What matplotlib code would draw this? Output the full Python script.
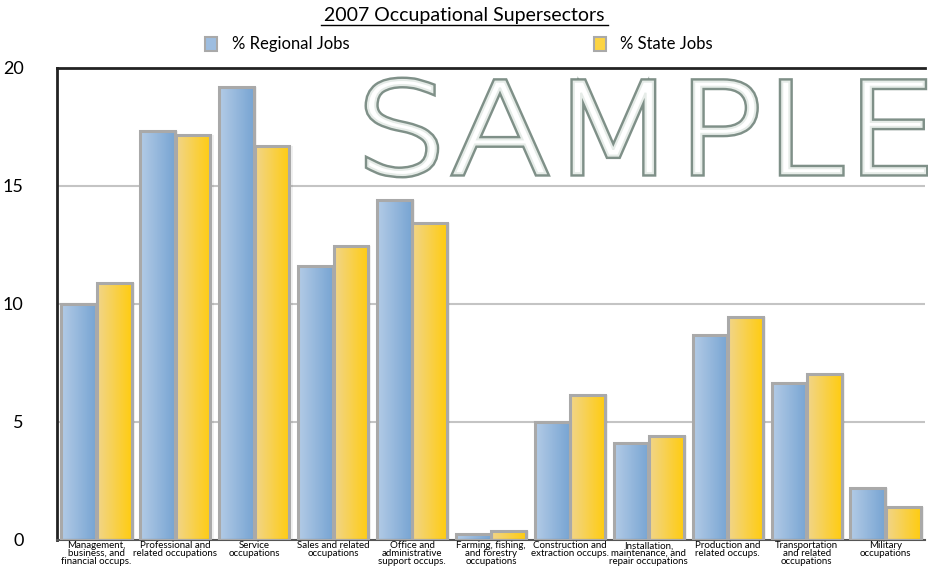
import numpy as np
import matplotlib.pyplot as plt
import matplotlib.patheffects as pe
from matplotlib.colors import LinearSegmentedColormap
from matplotlib.textpath import TextPath
from matplotlib.patches import PathPatch
from matplotlib.font_manager import FontProperties
from matplotlib.path import Path

categories = ['Management,\nbusiness, and\nfinancial occups.',
              'Professional and\nrelated occupations',
              'Service\noccupations',
              'Sales and related\noccupations',
              'Office and\nadministrative\nsupport occups.',
              'Farming, fishing,\nand forestry\noccupations',
              'Construction and\nextraction occups.',
              'Installation,\nmaintenance, and\nrepair occupations',
              'Production and\nrelated occups.',
              'Transportation\nand related\noccupations',
              'Military\noccupations']
regional = [10.0, 17.35, 19.2, 11.6, 14.4, 0.25, 5.0, 4.1, 8.7, 6.65, 2.2]
state = [10.9, 17.15, 16.7, 12.45, 13.45, 0.4, 6.15, 4.4, 9.45, 7.05, 1.4]
yticks = [0, 5, 10, 15, 20]

blue_cm = LinearSegmentedColormap.from_list('b', ['#b3cbe6', '#78a5d3'])
gold_cm = LinearSegmentedColormap.from_list('g', ['#f1d58a', '#ffcc11'])

fig = plt.figure(figsize=(9.29, 5.78), dpi=100)
ax = fig.add_axes([57/929, 38/578, 868/929, 472/578])

x = np.arange(len(categories))
w = 0.44
grad = np.linspace(0, 1, 64).reshape(1, -1)

def gbar(xc, h, cmap):
    # shadow
    ax.bar(xc + 0.04, h, w, bottom=0, color='#000000', alpha=0.06, zorder=1.5)
    r = ax.bar(xc, h, w, color='none', edgecolor='#a9a9a9', linewidth=2.2, zorder=3)[0]
    im = ax.imshow(grad, extent=[xc - w/2, xc + w/2, 0, h], aspect='auto',
                   cmap=cmap, zorder=2.5)
    im.set_clip_path(r)

for i in range(len(categories)):
    gbar(x[i] - w/2 - 0.005, regional[i], blue_cm)
    gbar(x[i] + w/2 + 0.005, state[i], gold_cm)

ax.set_xlim(-0.5, len(categories) - 0.5)
ax.set_ylim(0, 20)
ax.set_yticks(yticks)
ax.set_yticklabels([str(t) for t in yticks], fontsize=13, family='Lato')
ax.tick_params(axis='y', length=0, pad=24)
ax.tick_params(axis='x', length=0, pad=1)
ax.set_xticks(x)
ax.set_xticklabels(categories, fontsize=7, linespacing=0.8, family='Lato')
for yv in [5, 10, 15]:
    ax.axhline(yv, color='#c4c4c4', linewidth=1.5, zorder=1)

for s in ['left', 'top']:
    ax.spines[s].set_linewidth(2)
    ax.spines[s].set_color('#222222')
ax.spines['bottom'].set_color('#555555')
ax.spines['bottom'].set_linewidth(1.5)
ax.spines['right'].set_visible(False)

# watermark, stretched to fill its box
tp = TextPath((0, 0), 'SAMPLE', size=100, prop=FontProperties(family='DejaVu Sans', weight='light'))
v = tp.vertices.copy()
x0, x1 = v[:, 0].min(), v[:, 0].max()
y0, y1 = v[:, 1].min(), v[:, 1].max()
v[:, 0] = 355/929 + (v[:, 0] - x0) / (x1 - x0) * (570/929)
v[:, 1] = (578 - 175)/578 + (v[:, 1] - y0) / (y1 - y0) * (95/578)
wm = PathPatch(Path(v, tp.codes), transform=fig.transFigure, facecolor='white',
               edgecolor='#e6ece8', linewidth=1.5, zorder=4,
               path_effects=[pe.Stroke(linewidth=5, foreground='#7f9088'), pe.Normal()])
fig.patches.append(wm)

fig.text(0.5, 0.974, '2007 Occupational Supersectors', ha='center', va='center',
         fontsize=14, family='Lato')
fig.add_artist(plt.Line2D([0.345, 0.655], [0.957, 0.957], color='black', linewidth=1))

# legend
fig.patches.append(plt.Rectangle((205/929, 1 - 51/578), 12/929, 14/578, transform=fig.transFigure,
                                 facecolor='#9dbde0', edgecolor='#a9a9a9', linewidth=1.5))
fig.text(232/929, 1 - 44/578, '% Regional Jobs', va='center', fontsize=12, family='Lato')
fig.patches.append(plt.Rectangle((594/929, 1 - 51/578), 12/929, 14/578, transform=fig.transFigure,
                                 facecolor='#fcd443', edgecolor='#a9a9a9', linewidth=1.5))
fig.text(620/929, 1 - 44/578, '% State Jobs', va='center', fontsize=12, family='Lato')

fig.savefig('out.png', dpi=100)
